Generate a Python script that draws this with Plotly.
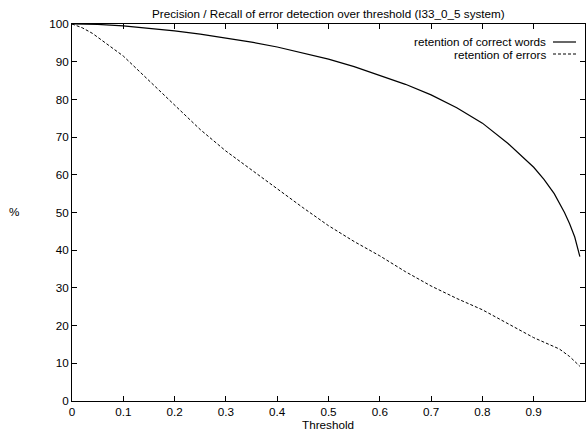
import plotly.graph_objects as go

# ---- data ----
correct_x = [0, 0.05, 0.1, 0.15, 0.2, 0.25, 0.3, 0.35, 0.4, 0.45, 0.5, 0.55, 0.6,
             0.65, 0.7, 0.75, 0.8, 0.85, 0.9, 0.92, 0.94, 0.96, 0.97, 0.98, 0.99]
correct_y = [100, 99.9, 99.5, 98.9, 98.2, 97.3, 96.3, 95.2, 93.9, 92.4, 90.7, 88.7, 86.4,
             84.0, 81.2, 77.8, 73.7, 68.3, 62.0, 58.8, 55.0, 50.0, 47.0, 43.5, 38.3]

errors_x = [0, 0.02, 0.04, 0.06, 0.1, 0.15, 0.2, 0.25, 0.3, 0.35, 0.4, 0.45, 0.5,
            0.55, 0.6, 0.65, 0.7, 0.75, 0.8, 0.85, 0.9, 0.95, 0.97, 0.99]
errors_y = [100, 99.0, 97.5, 95.5, 91.5, 85.0, 78.5, 72.0, 66.3, 61.2, 56.3, 51.3, 46.5,
            42.3, 38.5, 34.3, 30.5, 27.2, 24.2, 20.5, 16.8, 13.8, 11.8, 9.2]

series_names = ["retention of correct words", "retention of errors"]
x_ticks = [0, 0.1, 0.2, 0.3, 0.4, 0.5, 0.6, 0.7, 0.8, 0.9, 1]
x_tick_labels = ["0", "0.1", "0.2", "0.3", "0.4", "0.5", "0.6", "0.7", "0.8", "0.9", "1"]
y_ticks = [0, 10, 20, 30, 40, 50, 60, 70, 80, 90, 100]

title = "Precision / Recall of error detection over threshold (I33_0_5 system)"
FONT = "Liberation Sans, Arial, sans-serif"
FS = 11.7

fig = go.Figure()
fig.add_trace(go.Scatter(x=correct_x, y=correct_y, mode="lines", name=series_names[0],
                         line=dict(color="black", width=1.2), showlegend=False))
fig.add_trace(go.Scatter(x=errors_x, y=errors_y, mode="lines", name=series_names[1],
                         line=dict(color="black", width=1, dash="3px,2px"), showlegend=False))

W, H = 587, 430
L, R, T, B = 72, 2, 24, 29
pw, ph = W - L - R, H - T - B

def px(xp):
    return (xp - L) / pw

def py(yp):
    return 1 - (yp - T) / ph

# gnuplot-style legend (text right-aligned, sample on the right)
legend_rows = [(42, "solid", 1.2), (54, "3px,2px", 1)]
for (yp, dash, w), name in zip(legend_rows, series_names):
    fig.add_annotation(x=px(548), y=py(yp), xref="paper", yref="paper", text=name,
                       showarrow=False, xanchor="right", yanchor="middle",
                       font=dict(family=FONT, size=FS, color="black"))
    fig.add_shape(type="line", xref="paper", yref="paper",
                  x0=px(553), x1=px(576), y0=py(yp), y1=py(yp),
                  line=dict(color="black", width=w, dash=dash))

fig.add_annotation(x=px(14), y=py(212), xref="paper", yref="paper", text="%",
                   showarrow=False, xanchor="center", yanchor="middle",
                   font=dict(family=FONT, size=FS, color="black"))
fig.add_annotation(x=px(328), y=py(424.5), xref="paper", yref="paper", text="Threshold",
                   showarrow=False, xanchor="center", yanchor="middle",
                   font=dict(family=FONT, size=FS, color="black"))
fig.add_annotation(x=px(328), y=py(13), xref="paper", yref="paper", text=title,
                   showarrow=False, xanchor="center", yanchor="middle",
                   font=dict(family=FONT, size=FS, color="black"))

axis_common = dict(showgrid=False, zeroline=False, showline=True, linecolor="black",
                   linewidth=1, mirror="allticks", ticks="inside", ticklen=5,
                   tickcolor="black", tickwidth=1,
                   tickfont=dict(family=FONT, size=FS, color="black"))

fig.update_xaxes(range=[0, 1], tickvals=x_ticks, ticktext=x_tick_labels, **axis_common)
fig.update_yaxes(range=[0, 100], tickvals=y_ticks, **axis_common)

fig.update_layout(width=W, height=H, margin=dict(l=L, r=R, t=T, b=B, autoexpand=False),
                  paper_bgcolor="white", plot_bgcolor="white",
                  font=dict(family=FONT, size=FS, color="black"))

fig.write_html("out.html", config={"displayModeBar": False},
               post_script="document.body.style.margin='0';document.body.style.overflow='hidden';")
